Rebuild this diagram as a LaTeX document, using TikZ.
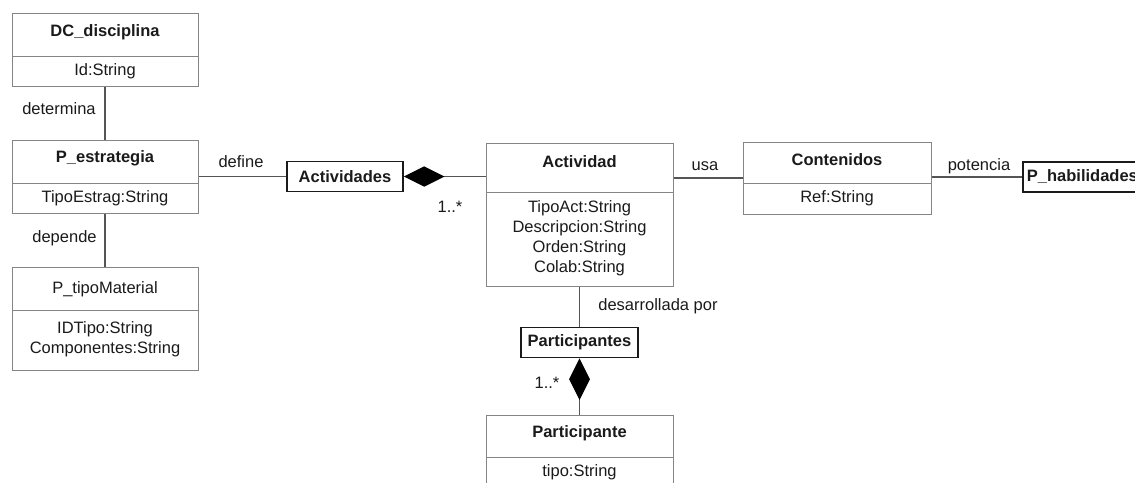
\documentclass[tikz,border=0pt]{standalone}
\usepackage{fontspec}
\setmainfont{Liberation Sans}
\usetikzlibrary{arrows.meta}
\definecolor{boxgray}{HTML}{858585}
\definecolor{linegray}{HTML}{555555}
\definecolor{ink}{HTML}{1A1A1A}
\begin{document}
\begin{tikzpicture}[x=1pt,y=-1pt,
  font=\fontsize{16.5}{20}\selectfont, text=ink,
  classbox/.style={draw=boxgray, line width=1pt, rectangle, inner sep=0pt},
  divider/.style={draw=boxgray, line width=1pt},
  assocbox/.style={draw=ink, line width=1.8pt, rectangle, inner xsep=4pt, inner ysep=0pt, minimum height=30pt, font=\fontsize{16.5}{20}\selectfont\bfseries},
  conn/.style={draw=linegray, line width=1.1pt},
  title/.style={font=\fontsize{16.5}{20}\selectfont\bfseries, inner sep=0pt},
  attr/.style={inner sep=0pt, align=center},
  lbl/.style={inner sep=0pt},
  comp/.style={conn, -{Diamond[length=#1, color=black]}}
]
\useasboundingbox (0,0) rectangle (1135,482);
\clip (0,0) rectangle (1135,482);

% DC_disciplina
\node[classbox, minimum width=186pt, minimum height=73pt] (dc) at (105,49.5) {};
\draw[divider] (12,56) -- (198,56);
\node[title] (dct) at (105,32) {DC\_disciplina};
\node[attr] (dca) at (105,71) {Id:String};

% P_estrategia
\node[classbox, minimum width=186pt, minimum height=73pt] (pe) at (105,176.5) {};
\draw[divider] (12,183) -- (198,183);
\node[title] (pet) at (105,158) {P\_estrategia};
\node[attr] (pea) at (105,198) {TipoEstrag:String};

% P_tipoMaterial
\node[classbox, minimum width=186pt, minimum height=103pt] (pt) at (105,318.5) {};
\draw[divider] (12,310) -- (198,310);
\node[attr] (ptt) at (105,289) {P\_tipoMaterial};
\node[attr] (pta) at (105,339) {IDTipo:String\\Componentes:String};

% Actividad
\node[classbox, minimum width=187pt, minimum height=143pt] (act) at (579.5,214.5) {};
\draw[divider] (486,192) -- (673,192);
\node[title] (actt) at (579.5,162) {Actividad};
\node[attr] (acta) at (579.5,238) {TipoAct:String\\Descripcion:String\\Orden:String\\Colab:String};

% Contenidos
\node[classbox, minimum width=188pt, minimum height=72pt] (cont) at (837,178) {};
\draw[divider] (743,183) -- (931,183);
\node[title] (contt) at (837,160) {Contenidos};
\node[attr] (conta) at (837,198) {Ref:String};

% Participante
\node[classbox, minimum width=187pt, minimum height=85pt] (part) at (579.5,457.5) {};
\draw[divider] (486,457) -- (673,457);
\node[title] (partt) at (579.5,433) {Participante};
\node[attr] (parta) at (579.5,472) {tipo:String};

% association boxes
\node[assocbox, minimum width=116pt] (acts) at (345,176.5) {Actividades};
\node[assocbox, minimum width=117pt] (parts) at (579.5,342.5) {Participantes};
\node[assocbox, anchor=west] (hab) at (1022,177) {P\_habilidades};

% connectors
\draw[conn] (dc.south) -- (pe.north);
\draw[conn] (pe.south) -- (pt.north);
\draw[conn] (acts.west -| pe.east) -- (acts.west);
\draw[comp={23pt 16pt}] (acts.east -| act.west) -- (acts.east);
\draw[conn] (act.east |- cont.west) -- (cont.west);
\draw[conn] (cont.east |- hab.west) -- (hab.west);
\draw[conn] (act.south) -- (parts.north);
\draw[comp={24pt 16pt}] (part.north) -- (parts.south);

% labels
\node[lbl] (l1) at (59,109) {determina};
\node[lbl] (l2) at (241,162) {define};
\node[lbl] (l3) at (64.5,238) {depende};
\node[lbl] (l4) at (450,207) {1..*};
\node[lbl] (l5) at (705,166) {usa};
\node[lbl] (l6) at (979,166) {potencia};
\node[lbl] (l7) at (658,306) {desarrollada por};
\node[lbl] (l8) at (547,383) {1..*};
\end{tikzpicture}
\end{document}
